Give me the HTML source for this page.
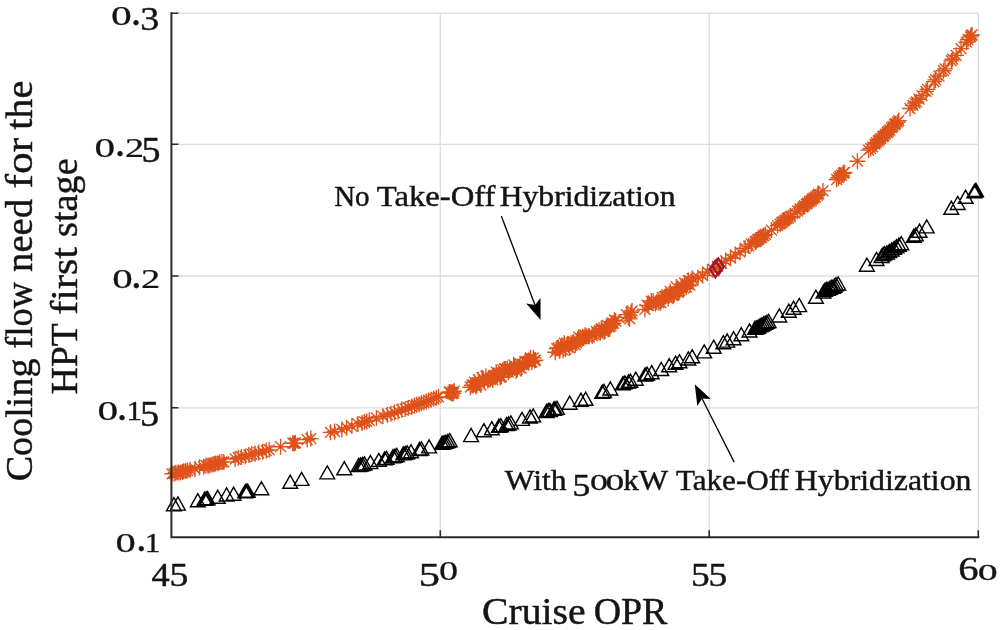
<!DOCTYPE html>
<html lang="en"><head><meta charset="utf-8"><title>Cooling flow need vs Cruise OPR</title>
<style>html,body{margin:0;padding:0;background:#fff}body{width:1006px;height:630px;overflow:hidden}svg{display:block}</style>
</head><body>
<svg width="1006" height="630" viewBox="0 0 1006 630">
<rect width="1006" height="630" fill="#fff"/>
<path d="M171.4 13.2H978.3M171.4 144.3H978.3M171.4 276.0H978.3M171.4 407.8H978.3M440.3 13.2V537.2M709.2 13.2V537.2M978.3 13.2V537.2" stroke="#dddddd" stroke-width="1.3" fill="none"/>
<path d="M164 473.8h16M172 465.8v16M166.6 468.4l10.8 10.8M166.6 479.2l10.8 -10.8M166.2 473.6h16M174.2 465.6v16M168.8 468.2l10.8 10.8M168.8 479l10.8 -10.8M167.8 472.7h16M175.8 464.7v16M170.4 467.3l10.8 10.8M170.4 478.1l10.8 -10.8M170 472.4h16M178 464.4v16M172.6 467l10.8 10.8M172.6 477.8l10.8 -10.8M172.3 472.4h16M180.3 464.4v16M174.9 467l10.8 10.8M174.9 477.8l10.8 -10.8M174.3 472h16M182.3 464v16M176.9 466.6l10.8 10.8M176.9 477.4l10.8 -10.8M175.7 471.2h16M183.7 463.2v16M178.3 465.8l10.8 10.8M178.3 476.6l10.8 -10.8M177.8 471h16M185.8 463v16M180.4 465.6l10.8 10.8M180.4 476.4l10.8 -10.8M179.6 470.4h16M187.6 462.4v16M182.2 465l10.8 10.8M182.2 475.8l10.8 -10.8M182 469.8h16M190 461.8v16M184.6 464.4l10.8 10.8M184.6 475.2l10.8 -10.8M187 468.9h16M195 460.9v16M189.6 463.5l10.8 10.8M189.6 474.3l10.8 -10.8M191.5 467.2h16M199.5 459.2v16M194.1 461.8l10.8 10.8M194.1 472.6l10.8 -10.8M195.6 466.8h16M203.6 458.8v16M198.2 461.4l10.8 10.8M198.2 472.2l10.8 -10.8M198 465.6h16M206 457.6v16M200.6 460.2l10.8 10.8M200.6 471l10.8 -10.8M200.1 465.7h16M208.1 457.7v16M202.7 460.3l10.8 10.8M202.7 471.1l10.8 -10.8M201.8 465.2h16M209.8 457.2v16M204.4 459.8l10.8 10.8M204.4 470.6l10.8 -10.8M204.1 464.4h16M212.1 456.4v16M206.7 459l10.8 10.8M206.7 469.8l10.8 -10.8M206.1 464.1h16M214.1 456.1v16M208.7 458.7l10.8 10.8M208.7 469.5l10.8 -10.8M207.6 463.6h16M215.6 455.6v16M210.2 458.2l10.8 10.8M210.2 469l10.8 -10.8M210 463.2h16M218 455.2v16M212.6 457.8l10.8 10.8M212.6 468.6l10.8 -10.8M211.8 462.3h16M219.8 454.3v16M214.4 456.9l10.8 10.8M214.4 467.7l10.8 -10.8M213.9 462h16M221.9 454v16M216.5 456.6l10.8 10.8M216.5 467.4l10.8 -10.8M215.8 461.9h16M223.8 453.9v16M218.4 456.5l10.8 10.8M218.4 467.3l10.8 -10.8M227.2 459h16M235.2 451v16M229.8 453.6l10.8 10.8M229.8 464.4l10.8 -10.8M230.3 457.7h16M238.3 449.7v16M232.9 452.3l10.8 10.8M232.9 463.1l10.8 -10.8M233.4 456.9h16M241.4 448.9v16M236 451.5l10.8 10.8M236 462.3l10.8 -10.8M237.3 456.5h16M245.3 448.5v16M239.9 451.1l10.8 10.8M239.9 461.9l10.8 -10.8M240.9 455.1h16M248.9 447.1v16M243.5 449.7l10.8 10.8M243.5 460.5l10.8 -10.8M243.8 454.1h16M251.8 446.1v16M246.4 448.7l10.8 10.8M246.4 459.5l10.8 -10.8M247.1 453.8h16M255.1 445.8v16M249.7 448.4l10.8 10.8M249.7 459.2l10.8 -10.8M250.7 452.6h16M258.7 444.6v16M253.3 447.2l10.8 10.8M253.3 458l10.8 -10.8M254.7 451.8h16M262.7 443.8v16M257.3 446.4l10.8 10.8M257.3 457.2l10.8 -10.8M258.2 450.6h16M266.2 442.6v16M260.8 445.2l10.8 10.8M260.8 456l10.8 -10.8M261.2 449.8h16M269.2 441.8v16M263.8 444.4l10.8 10.8M263.8 455.2l10.8 -10.8M272.6 446.7h16M280.6 438.7v16M275.2 441.3l10.8 10.8M275.2 452.1l10.8 -10.8M284.8 443.2h16M292.8 435.2v16M287.4 437.8l10.8 10.8M287.4 448.6l10.8 -10.8M286.1 443.4h16M294.1 435.4v16M288.7 438l10.8 10.8M288.7 448.8l10.8 -10.8M287.4 442.8h16M295.4 434.8v16M290 437.4l10.8 10.8M290 448.2l10.8 -10.8M299.2 439.6h16M307.2 431.6v16M301.8 434.2l10.8 10.8M301.8 445l10.8 -10.8M302.8 438.6h16M310.8 430.6v16M305.4 433.2l10.8 10.8M305.4 444l10.8 -10.8M322.5 432.3h16M330.5 424.3v16M325.1 426.9l10.8 10.8M325.1 437.7l10.8 -10.8M326.6 431.6h16M334.6 423.6v16M329.2 426.2l10.8 10.8M329.2 437l10.8 -10.8M333.8 429.4h16M341.8 421.4v16M336.4 424l10.8 10.8M336.4 434.8l10.8 -10.8M338.6 427.7h16M346.6 419.7v16M341.2 422.3l10.8 10.8M341.2 433.1l10.8 -10.8M343.9 426.1h16M351.9 418.1v16M346.5 420.7l10.8 10.8M346.5 431.5l10.8 -10.8M349.9 423.9h16M357.9 415.9v16M352.5 418.5l10.8 10.8M352.5 429.3l10.8 -10.8M354 423.1h16M362 415.1v16M356.6 417.7l10.8 10.8M356.6 428.5l10.8 -10.8M356.5 421.8h16M364.5 413.8v16M359.1 416.4l10.8 10.8M359.1 427.2l10.8 -10.8M358.8 421.4h16M366.8 413.4v16M361.4 416l10.8 10.8M361.4 426.8l10.8 -10.8M361.2 420.3h16M369.2 412.3v16M363.8 414.9l10.8 10.8M363.8 425.7l10.8 -10.8M368.4 418h16M376.4 410v16M371 412.6l10.8 10.8M371 423.4l10.8 -10.8M375 416.3h16M383 408.3v16M377.6 410.9l10.8 10.8M377.6 421.7l10.8 -10.8M379.4 414.7h16M387.4 406.7v16M382 409.3l10.8 10.8M382 420.1l10.8 -10.8M383 413.7h16M391 405.7v16M385.6 408.3l10.8 10.8M385.6 419.1l10.8 -10.8M386.5 412.6h16M394.5 404.6v16M389.1 407.2l10.8 10.8M389.1 418l10.8 -10.8M390.1 411.6h16M398.1 403.6v16M392.7 406.2l10.8 10.8M392.7 417l10.8 -10.8M393.8 409.6h16M401.8 401.6v16M396.4 404.2l10.8 10.8M396.4 415l10.8 -10.8M397.2 408.9h16M405.2 400.9v16M399.8 403.5l10.8 10.8M399.8 414.3l10.8 -10.8M400.2 407.8h16M408.2 399.8v16M402.8 402.4l10.8 10.8M402.8 413.2l10.8 -10.8M403.7 406.7h16M411.7 398.7v16M406.3 401.3l10.8 10.8M406.3 412.1l10.8 -10.8M406.5 405.6h16M414.5 397.6v16M409.1 400.2l10.8 10.8M409.1 411l10.8 -10.8M408.8 404.8h16M416.8 396.8v16M411.4 399.4l10.8 10.8M411.4 410.2l10.8 -10.8M411.1 404.3h16M419.1 396.3v16M413.7 398.9l10.8 10.8M413.7 409.7l10.8 -10.8M413.4 403.2h16M421.4 395.2v16M416 397.8l10.8 10.8M416 408.6l10.8 -10.8M415.9 402.4h16M423.9 394.4v16M418.5 397l10.8 10.8M418.5 407.8l10.8 -10.8M418.4 401.6h16M426.4 393.6v16M421 396.2l10.8 10.8M421 407l10.8 -10.8M420.6 400.4h16M428.6 392.4v16M423.2 395l10.8 10.8M423.2 405.8l10.8 -10.8M423 399.8h16M431 391.8v16M425.6 394.4l10.8 10.8M425.6 405.2l10.8 -10.8M425.6 398.6h16M433.6 390.6v16M428.2 393.2l10.8 10.8M428.2 404l10.8 -10.8M428.3 397.7h16M436.3 389.7v16M430.9 392.3l10.8 10.8M430.9 403.1l10.8 -10.8M430.5 396.8h16M438.5 388.8v16M433.1 391.4l10.8 10.8M433.1 402.2l10.8 -10.8M441.3 392.1h16M449.3 384.1v16M443.9 386.7l10.8 10.8M443.9 397.5l10.8 -10.8M442 391.9h16M450 383.9v16M444.6 386.5l10.8 10.8M444.6 397.3l10.8 -10.8M442.7 392.8h16M450.7 384.8v16M445.3 387.4l10.8 10.8M445.3 398.2l10.8 -10.8M443.3 392.8h16M451.3 384.8v16M445.9 387.4l10.8 10.8M445.9 398.2l10.8 -10.8M444 393.6h16M452 385.6v16M446.6 388.2l10.8 10.8M446.6 399l10.8 -10.8M444.8 391.9h16M452.8 383.9v16M447.4 386.5l10.8 10.8M447.4 397.3l10.8 -10.8M445.4 393.3h16M453.4 385.3v16M448 387.9l10.8 10.8M448 398.7l10.8 -10.8M446.2 391.1h16M454.2 383.1v16M448.8 385.7l10.8 10.8M448.8 396.5l10.8 -10.8M462.4 387.2h16M470.4 379.2v16M465 381.8l10.8 10.8M465 392.6l10.8 -10.8M464 385.2h16M472 377.2v16M466.6 379.8l10.8 10.8M466.6 390.6l10.8 -10.8M465.3 385.2h16M473.3 377.2v16M467.9 379.8l10.8 10.8M467.9 390.6l10.8 -10.8M466.6 382.2h16M474.6 374.2v16M469.2 376.8l10.8 10.8M469.2 387.6l10.8 -10.8M467.9 386.5h16M475.9 378.5v16M470.5 381.1l10.8 10.8M470.5 391.9l10.8 -10.8M468.9 384.9h16M476.9 376.9v16M471.5 379.5l10.8 10.8M471.5 390.3l10.8 -10.8M470.4 379.8h16M478.4 371.8v16M473 374.4l10.8 10.8M473 385.2l10.8 -10.8M471.5 382.2h16M479.5 374.2v16M474.1 376.8l10.8 10.8M474.1 387.6l10.8 -10.8M473 385h16M481 377v16M475.6 379.6l10.8 10.8M475.6 390.4l10.8 -10.8M474.1 377.7h16M482.1 369.7v16M476.7 372.3l10.8 10.8M476.7 383.1l10.8 -10.8M475.5 379h16M483.5 371v16M478.1 373.6l10.8 10.8M478.1 384.4l10.8 -10.8M476.4 381.8h16M484.4 373.8v16M479 376.4l10.8 10.8M479 387.2l10.8 -10.8M477.9 376.2h16M485.9 368.2v16M480.5 370.8l10.8 10.8M480.5 381.6l10.8 -10.8M479.8 380.5h16M487.8 372.5v16M482.4 375.1l10.8 10.8M482.4 385.9l10.8 -10.8M480.5 379h16M488.5 371v16M483.1 373.6l10.8 10.8M483.1 384.4l10.8 -10.8M482.2 379.5h16M490.2 371.5v16M484.8 374.1l10.8 10.8M484.8 384.9l10.8 -10.8M483.4 377.7h16M491.4 369.7v16M486 372.3l10.8 10.8M486 383.1l10.8 -10.8M484.8 379.9h16M492.8 371.9v16M487.4 374.5l10.8 10.8M487.4 385.3l10.8 -10.8M485.9 375.2h16M493.9 367.2v16M488.5 369.8l10.8 10.8M488.5 380.6l10.8 -10.8M487.3 376.3h16M495.3 368.3v16M489.9 370.9l10.8 10.8M489.9 381.7l10.8 -10.8M488.2 372.2h16M496.2 364.2v16M490.8 366.8l10.8 10.8M490.8 377.6l10.8 -10.8M489.5 375.3h16M497.5 367.3v16M492.1 369.9l10.8 10.8M492.1 380.7l10.8 -10.8M490.9 373.8h16M498.9 365.8v16M493.5 368.4l10.8 10.8M493.5 379.2l10.8 -10.8M492.1 377.3h16M500.1 369.3v16M494.7 371.9l10.8 10.8M494.7 382.7l10.8 -10.8M493.4 376.6h16M501.4 368.6v16M496 371.2l10.8 10.8M496 382l10.8 -10.8M494.7 370.2h16M502.7 362.2v16M497.3 364.8l10.8 10.8M497.3 375.6l10.8 -10.8M496.3 368.9h16M504.3 360.9v16M498.9 363.5l10.8 10.8M498.9 374.3l10.8 -10.8M497.4 369h16M505.4 361v16M500 363.6l10.8 10.8M500 374.4l10.8 -10.8M499.3 368.8h16M507.3 360.8v16M501.9 363.4l10.8 10.8M501.9 374.2l10.8 -10.8M500.3 372.2h16M508.3 364.2v16M502.9 366.8l10.8 10.8M502.9 377.6l10.8 -10.8M501.5 370.4h16M509.5 362.4v16M504.1 365l10.8 10.8M504.1 375.8l10.8 -10.8M503 369.7h16M511 361.7v16M505.6 364.3l10.8 10.8M505.6 375.1l10.8 -10.8M503.9 368.9h16M511.9 360.9v16M506.5 363.5l10.8 10.8M506.5 374.3l10.8 -10.8M505.7 364.8h16M513.7 356.8v16M508.3 359.4l10.8 10.8M508.3 370.2l10.8 -10.8M507 367.1h16M515 359.1v16M509.6 361.7l10.8 10.8M509.6 372.5l10.8 -10.8M508.2 371h16M516.2 363v16M510.8 365.6l10.8 10.8M510.8 376.4l10.8 -10.8M509.3 369.2h16M517.3 361.2v16M511.9 363.8l10.8 10.8M511.9 374.6l10.8 -10.8M510.9 366.8h16M518.9 358.8v16M513.5 361.4l10.8 10.8M513.5 372.2l10.8 -10.8M512.1 363.6h16M520.1 355.6v16M514.7 358.2l10.8 10.8M514.7 369l10.8 -10.8M513.3 368.3h16M521.3 360.3v16M515.9 362.9l10.8 10.8M515.9 373.7l10.8 -10.8M514.8 364.1h16M522.8 356.1v16M517.4 358.7l10.8 10.8M517.4 369.5l10.8 -10.8M515.9 365h16M523.9 357v16M518.5 359.6l10.8 10.8M518.5 370.4l10.8 -10.8M517 361.6h16M525 353.6v16M519.6 356.2l10.8 10.8M519.6 367l10.8 -10.8M518.4 361.9h16M526.4 353.9v16M521 356.5l10.8 10.8M521 367.3l10.8 -10.8M519.5 361.6h16M527.5 353.6v16M522.1 356.2l10.8 10.8M522.1 367l10.8 -10.8M520.8 361.4h16M528.8 353.4v16M523.4 356l10.8 10.8M523.4 366.8l10.8 -10.8M522.5 358h16M530.5 350v16M525.1 352.6l10.8 10.8M525.1 363.4l10.8 -10.8M523.8 362h16M531.8 354v16M526.4 356.6l10.8 10.8M526.4 367.4l10.8 -10.8M525.3 357.9h16M533.3 349.9v16M527.9 352.5l10.8 10.8M527.9 363.3l10.8 -10.8M526.5 360.5h16M534.5 352.5v16M529.1 355.1l10.8 10.8M529.1 365.9l10.8 -10.8M527.5 360.1h16M535.5 352.1v16M530.1 354.7l10.8 10.8M530.1 365.5l10.8 -10.8M547.2 352.2h16M555.2 344.2v16M549.8 346.8l10.8 10.8M549.8 357.6l10.8 -10.8M548.8 348.6h16M556.8 340.6v16M551.4 343.2l10.8 10.8M551.4 354l10.8 -10.8M550.4 347.8h16M558.4 339.8v16M553 342.4l10.8 10.8M553 353.2l10.8 -10.8M551.6 350.7h16M559.6 342.7v16M554.2 345.3l10.8 10.8M554.2 356.1l10.8 -10.8M552.7 347.5h16M560.7 339.5v16M555.3 342.1l10.8 10.8M555.3 352.9l10.8 -10.8M554 345.3h16M562 337.3v16M556.6 339.9l10.8 10.8M556.6 350.7l10.8 -10.8M555.1 350.2h16M563.1 342.2v16M557.7 344.8l10.8 10.8M557.7 355.6l10.8 -10.8M556.3 343.2h16M564.3 335.2v16M558.9 337.8l10.8 10.8M558.9 348.6l10.8 -10.8M557.6 349h16M565.6 341v16M560.2 343.6l10.8 10.8M560.2 354.4l10.8 -10.8M559.5 343.8h16M567.5 335.8v16M562.1 338.4l10.8 10.8M562.1 349.2l10.8 -10.8M560.6 343.9h16M568.6 335.9v16M563.2 338.5l10.8 10.8M563.2 349.3l10.8 -10.8M561.5 347.8h16M569.5 339.8v16M564.1 342.4l10.8 10.8M564.1 353.2l10.8 -10.8M563 343.2h16M571 335.2v16M565.6 337.8l10.8 10.8M565.6 348.6l10.8 -10.8M564 344.8h16M572 336.8v16M566.6 339.4l10.8 10.8M566.6 350.2l10.8 -10.8M565.5 342h16M573.5 334v16M568.1 336.6l10.8 10.8M568.1 347.4l10.8 -10.8M567.2 344.8h16M575.2 336.8v16M569.8 339.4l10.8 10.8M569.8 350.2l10.8 -10.8M568.4 342.8h16M576.4 334.8v16M571 337.4l10.8 10.8M571 348.2l10.8 -10.8M569.6 340.6h16M577.6 332.6v16M572.2 335.2l10.8 10.8M572.2 346l10.8 -10.8M570.7 337.2h16M578.7 329.2v16M573.3 331.8l10.8 10.8M573.3 342.6l10.8 -10.8M572.3 338.5h16M580.3 330.5v16M574.9 333.1l10.8 10.8M574.9 343.9l10.8 -10.8M573.9 338.7h16M581.9 330.7v16M576.5 333.3l10.8 10.8M576.5 344.1l10.8 -10.8M574.7 336.8h16M582.7 328.8v16M577.3 331.4l10.8 10.8M577.3 342.2l10.8 -10.8M575.8 338.1h16M583.8 330.1v16M578.4 332.7l10.8 10.8M578.4 343.5l10.8 -10.8M577 335.2h16M585 327.2v16M579.6 329.8l10.8 10.8M579.6 340.6l10.8 -10.8M578.4 336.6h16M586.4 328.6v16M581 331.2l10.8 10.8M581 342l10.8 -10.8M580.4 335.9h16M588.4 327.9v16M583 330.5l10.8 10.8M583 341.3l10.8 -10.8M581.3 336.5h16M589.3 328.5v16M583.9 331.1l10.8 10.8M583.9 341.9l10.8 -10.8M584.2 335.7h16M592.2 327.7v16M586.8 330.3l10.8 10.8M586.8 341.1l10.8 -10.8M586 334.7h16M594 326.7v16M588.6 329.3l10.8 10.8M588.6 340.1l10.8 -10.8M588.3 331.4h16M596.3 323.4v16M590.9 326l10.8 10.8M590.9 336.8l10.8 -10.8M591.1 330.3h16M599.1 322.3v16M593.7 324.9l10.8 10.8M593.7 335.7l10.8 -10.8M592.4 332.7h16M600.4 324.7v16M595 327.3l10.8 10.8M595 338.1l10.8 -10.8M593.3 328.6h16M601.3 320.6v16M595.9 323.2l10.8 10.8M595.9 334l10.8 -10.8M594.3 330.8h16M602.3 322.8v16M596.9 325.4l10.8 10.8M596.9 336.2l10.8 -10.8M596 331.8h16M604 323.8v16M598.6 326.4l10.8 10.8M598.6 337.2l10.8 -10.8M596.9 330.9h16M604.9 322.9v16M599.5 325.5l10.8 10.8M599.5 336.3l10.8 -10.8M598.3 327.5h16M606.3 319.5v16M600.9 322.1l10.8 10.8M600.9 332.9l10.8 -10.8M599.2 325.3h16M607.2 317.3v16M601.8 319.9l10.8 10.8M601.8 330.7l10.8 -10.8M600.7 326.8h16M608.7 318.8v16M603.3 321.4l10.8 10.8M603.3 332.2l10.8 -10.8M602 326.7h16M610 318.7v16M604.6 321.3l10.8 10.8M604.6 332.1l10.8 -10.8M603.1 325h16M611.1 317v16M605.7 319.6l10.8 10.8M605.7 330.4l10.8 -10.8M604.1 323.2h16M612.1 315.2v16M606.7 317.8l10.8 10.8M606.7 328.6l10.8 -10.8M605.5 323.3h16M613.5 315.3v16M608.1 317.9l10.8 10.8M608.1 328.7l10.8 -10.8M606.4 320.2h16M614.4 312.2v16M609 314.8l10.8 10.8M609 325.6l10.8 -10.8M607.7 321h16M615.7 313v16M610.3 315.6l10.8 10.8M610.3 326.4l10.8 -10.8M618.5 314.6h16M626.5 306.6v16M621.1 309.2l10.8 10.8M621.1 320l10.8 -10.8M620.3 317.4h16M628.3 309.4v16M622.9 312l10.8 10.8M622.9 322.8l10.8 -10.8M621.6 318.9h16M629.6 310.9v16M624.2 313.5l10.8 10.8M624.2 324.3l10.8 -10.8M623 312.4h16M631 304.4v16M625.6 307l10.8 10.8M625.6 317.8l10.8 -10.8M624 310.9h16M632 302.9v16M626.6 305.5l10.8 10.8M626.6 316.3l10.8 -10.8M636.9 309.3h16M644.9 301.3v16M639.5 303.9l10.8 10.8M639.5 314.7l10.8 -10.8M639.3 305.3h16M647.3 297.3v16M641.9 299.9l10.8 10.8M641.9 310.7l10.8 -10.8M640.7 305.6h16M648.7 297.6v16M643.3 300.2l10.8 10.8M643.3 311l10.8 -10.8M643.3 301.1h16M651.3 293.1v16M645.9 295.7l10.8 10.8M645.9 306.5l10.8 -10.8M645.2 300.9h16M653.2 292.9v16M647.8 295.5l10.8 10.8M647.8 306.3l10.8 -10.8M647.4 303.5h16M655.4 295.5v16M650 298.1l10.8 10.8M650 308.9l10.8 -10.8M648.9 302h16M656.9 294v16M651.5 296.6l10.8 10.8M651.5 307.4l10.8 -10.8M650.8 302.8h16M658.8 294.8v16M653.4 297.4l10.8 10.8M653.4 308.2l10.8 -10.8M652.8 302.5h16M660.8 294.5v16M655.4 297.1l10.8 10.8M655.4 307.9l10.8 -10.8M654.2 297.3h16M662.2 289.3v16M656.8 291.9l10.8 10.8M656.8 302.7l10.8 -10.8M655.5 298.5h16M663.5 290.5v16M658.1 293.1l10.8 10.8M658.1 303.9l10.8 -10.8M656.5 296.7h16M664.5 288.7v16M659.1 291.3l10.8 10.8M659.1 302.1l10.8 -10.8M657.6 296.5h16M665.6 288.5v16M660.2 291.1l10.8 10.8M660.2 301.9l10.8 -10.8M658.7 295.1h16M666.7 287.1v16M661.3 289.7l10.8 10.8M661.3 300.5l10.8 -10.8M660.2 298.5h16M668.2 290.5v16M662.8 293.1l10.8 10.8M662.8 303.9l10.8 -10.8M661.4 295.3h16M669.4 287.3v16M664 289.9l10.8 10.8M664 300.7l10.8 -10.8M662.2 291.4h16M670.2 283.4v16M664.8 286l10.8 10.8M664.8 296.8l10.8 -10.8M663.4 294.7h16M671.4 286.7v16M666 289.3l10.8 10.8M666 300.1l10.8 -10.8M665 295.7h16M673 287.7v16M667.6 290.3l10.8 10.8M667.6 301.1l10.8 -10.8M666.2 294.5h16M674.2 286.5v16M668.8 289.1l10.8 10.8M668.8 299.9l10.8 -10.8M667.1 291.6h16M675.1 283.6v16M669.7 286.2l10.8 10.8M669.7 297l10.8 -10.8M668.3 287h16M676.3 279v16M670.9 281.6l10.8 10.8M670.9 292.4l10.8 -10.8M669.6 292h16M677.6 284v16M672.2 286.6l10.8 10.8M672.2 297.4l10.8 -10.8M670.8 292.2h16M678.8 284.2v16M673.4 286.8l10.8 10.8M673.4 297.6l10.8 -10.8M671.8 290.3h16M679.8 282.3v16M674.4 284.9l10.8 10.8M674.4 295.7l10.8 -10.8M673.4 287.1h16M681.4 279.1v16M676 281.7l10.8 10.8M676 292.5l10.8 -10.8M674.4 286.2h16M682.4 278.2v16M677 280.8l10.8 10.8M677 291.6l10.8 -10.8M675.8 288h16M683.8 280v16M678.4 282.6l10.8 10.8M678.4 293.4l10.8 -10.8M676.6 283h16M684.6 275v16M679.2 277.6l10.8 10.8M679.2 288.4l10.8 -10.8M678.3 286.9h16M686.3 278.9v16M680.9 281.5l10.8 10.8M680.9 292.3l10.8 -10.8M679.4 284.2h16M687.4 276.2v16M682 278.8l10.8 10.8M682 289.6l10.8 -10.8M680.3 280.6h16M688.3 272.6v16M682.9 275.2l10.8 10.8M682.9 286l10.8 -10.8M681.9 285.1h16M689.9 277.1v16M684.5 279.7l10.8 10.8M684.5 290.5l10.8 -10.8M682.9 281.4h16M690.9 273.4v16M685.5 276l10.8 10.8M685.5 286.8l10.8 -10.8M684.2 278.6h16M692.2 270.6v16M686.8 273.2l10.8 10.8M686.8 284l10.8 -10.8M690 277.7h16M698 269.7v16M692.6 272.3l10.8 10.8M692.6 283.1l10.8 -10.8M694.5 275.6h16M702.5 267.6v16M697.1 270.2l10.8 10.8M697.1 281l10.8 -10.8M699.5 272h16M707.5 264v16M702.1 266.6l10.8 10.8M702.1 277.4l10.8 -10.8M705 269.2h16M713 261.2v16M707.6 263.8l10.8 10.8M707.6 274.6l10.8 -10.8M709.5 266.4h16M717.5 258.4v16M712.1 261l10.8 10.8M712.1 271.8l10.8 -10.8M713.5 263.3h16M721.5 255.3v16M716.1 257.9l10.8 10.8M716.1 268.7l10.8 -10.8M717.7 260.9h16M725.7 252.9v16M720.3 255.5l10.8 10.8M720.3 266.3l10.8 -10.8M722.5 258.2h16M730.5 250.2v16M725.1 252.8l10.8 10.8M725.1 263.6l10.8 -10.8M727.2 254.9h16M735.2 246.9v16M729.8 249.5l10.8 10.8M729.8 260.3l10.8 -10.8M732 252.1h16M740 244.1v16M734.6 246.7l10.8 10.8M734.6 257.5l10.8 -10.8M737.2 248.2h16M745.2 240.2v16M739.8 242.8l10.8 10.8M739.8 253.6l10.8 -10.8M740.7 246.1h16M748.7 238.1v16M743.3 240.7l10.8 10.8M743.3 251.5l10.8 -10.8M743.2 244h16M751.2 236v16M745.8 238.6l10.8 10.8M745.8 249.4l10.8 -10.8M747.1 241.9h16M755.1 233.9v16M749.7 236.5l10.8 10.8M749.7 247.3l10.8 -10.8M748.2 241.2h16M756.2 233.2v16M750.8 235.8l10.8 10.8M750.8 246.6l10.8 -10.8M749.6 240h16M757.6 232v16M752.2 234.6l10.8 10.8M752.2 245.4l10.8 -10.8M750.7 239h16M758.7 231v16M753.3 233.6l10.8 10.8M753.3 244.4l10.8 -10.8M752.5 237.8h16M760.5 229.8v16M755.1 232.4l10.8 10.8M755.1 243.2l10.8 -10.8M753.5 237.3h16M761.5 229.3v16M756.1 231.9l10.8 10.8M756.1 242.7l10.8 -10.8M755 235.9h16M763 227.9v16M757.6 230.5l10.8 10.8M757.6 241.3l10.8 -10.8M755.8 235.6h16M763.8 227.6v16M758.4 230.2l10.8 10.8M758.4 241l10.8 -10.8M757.4 234.4h16M765.4 226.4v16M760 229l10.8 10.8M760 239.8l10.8 -10.8M763.5 230.1h16M771.5 222.1v16M766.1 224.7l10.8 10.8M766.1 235.5l10.8 -10.8M769.6 225.6h16M777.6 217.6v16M772.2 220.2l10.8 10.8M772.2 231l10.8 -10.8M772.1 224.2h16M780.1 216.2v16M774.7 218.8l10.8 10.8M774.7 229.6l10.8 -10.8M773.6 222.7h16M781.6 214.7v16M776.2 217.3l10.8 10.8M776.2 228.1l10.8 -10.8M775.1 221.6h16M783.1 213.6v16M777.7 216.2l10.8 10.8M777.7 227l10.8 -10.8M776.9 220.2h16M784.9 212.2v16M779.5 214.8l10.8 10.8M779.5 225.6l10.8 -10.8M779 218.5h16M787 210.5v16M781.6 213.1l10.8 10.8M781.6 223.9l10.8 -10.8M780.5 217.8h16M788.5 209.8v16M783.1 212.4l10.8 10.8M783.1 223.2l10.8 -10.8M782.3 216.7h16M790.3 208.7v16M784.9 211.3l10.8 10.8M784.9 222.1l10.8 -10.8M787 213.2h16M795 205.2v16M789.6 207.8l10.8 10.8M789.6 218.6l10.8 -10.8M789.5 211h16M797.5 203v16M792.1 205.6l10.8 10.8M792.1 216.4l10.8 -10.8M792 208.9h16M800 200.9v16M794.6 203.5l10.8 10.8M794.6 214.3l10.8 -10.8M795.1 207h16M803.1 199v16M797.7 201.6l10.8 10.8M797.7 212.4l10.8 -10.8M796.5 205.6h16M804.5 197.6v16M799.1 200.2l10.8 10.8M799.1 211l10.8 -10.8M798.3 204.2h16M806.3 196.2v16M800.9 198.8l10.8 10.8M800.9 209.6l10.8 -10.8M799.6 203.2h16M807.6 195.2v16M802.2 197.8l10.8 10.8M802.2 208.6l10.8 -10.8M801.3 201.5h16M809.3 193.5v16M803.9 196.1l10.8 10.8M803.9 206.9l10.8 -10.8M803.2 200.5h16M811.2 192.5v16M805.8 195.1l10.8 10.8M805.8 205.9l10.8 -10.8M804.4 199h16M812.4 191v16M807 193.6l10.8 10.8M807 204.4l10.8 -10.8M806 198h16M814 190v16M808.6 192.6l10.8 10.8M808.6 203.4l10.8 -10.8M807.6 197h16M815.6 189v16M810.2 191.6l10.8 10.8M810.2 202.4l10.8 -10.8M809.4 195.3h16M817.4 187.3v16M812 189.9l10.8 10.8M812 200.7l10.8 -10.8M810.7 194.1h16M818.7 186.1v16M813.3 188.7l10.8 10.8M813.3 199.5l10.8 -10.8M815 190.9h16M823 182.9v16M817.6 185.5l10.8 10.8M817.6 196.3l10.8 -10.8M828.7 179.5h16M836.7 171.5v16M831.3 174.1l10.8 10.8M831.3 184.9l10.8 -10.8M830.5 177.7h16M838.5 169.7v16M833.1 172.3l10.8 10.8M833.1 183.1l10.8 -10.8M831.8 176.1h16M839.8 168.1v16M834.4 170.7l10.8 10.8M834.4 181.5l10.8 -10.8M833.6 175.2h16M841.6 167.2v16M836.2 169.8l10.8 10.8M836.2 180.6l10.8 -10.8M835.2 173.2h16M843.2 165.2v16M837.8 167.8l10.8 10.8M837.8 178.6l10.8 -10.8M836.5 172.5h16M844.5 164.5v16M839.1 167.1l10.8 10.8M839.1 177.9l10.8 -10.8M849.4 161.2h16M857.4 153.2v16M852 155.8l10.8 10.8M852 166.6l10.8 -10.8M860.6 150.1h16M868.6 142.1v16M863.2 144.7l10.8 10.8M863.2 155.5l10.8 -10.8M862.6 148.5h16M870.6 140.5v16M865.2 143.1l10.8 10.8M865.2 153.9l10.8 -10.8M864.6 146.8h16M872.6 138.8v16M867.2 141.4l10.8 10.8M867.2 152.2l10.8 -10.8M867 144.1h16M875 136.1v16M869.6 138.7l10.8 10.8M869.6 149.5l10.8 -10.8M868.4 142.7h16M876.4 134.7v16M871 137.3l10.8 10.8M871 148.1l10.8 -10.8M870.1 141h16M878.1 133v16M872.7 135.6l10.8 10.8M872.7 146.4l10.8 -10.8M871.3 139.9h16M879.3 131.9v16M873.9 134.5l10.8 10.8M873.9 145.3l10.8 -10.8M872.8 138.3h16M880.8 130.3v16M875.4 132.9l10.8 10.8M875.4 143.7l10.8 -10.8M874.7 136.6h16M882.7 128.6v16M877.3 131.2l10.8 10.8M877.3 142l10.8 -10.8M875.9 135.9h16M883.9 127.9v16M878.5 130.5l10.8 10.8M878.5 141.3l10.8 -10.8M877.4 134.2h16M885.4 126.2v16M880 128.8l10.8 10.8M880 139.6l10.8 -10.8M879.3 132.5h16M887.3 124.5v16M881.9 127.1l10.8 10.8M881.9 137.9l10.8 -10.8M880.4 131.3h16M888.4 123.3v16M883 125.9l10.8 10.8M883 136.7l10.8 -10.8M881.8 130h16M889.8 122v16M884.4 124.6l10.8 10.8M884.4 135.4l10.8 -10.8M883.6 127.6h16M891.6 119.6v16M886.2 122.2l10.8 10.8M886.2 133l10.8 -10.8M885 126.5h16M893 118.5v16M887.6 121.1l10.8 10.8M887.6 131.9l10.8 -10.8M886.6 124.5h16M894.6 116.5v16M889.2 119.1l10.8 10.8M889.2 129.9l10.8 -10.8M887.7 123.7h16M895.7 115.7v16M890.3 118.3l10.8 10.8M890.3 129.1l10.8 -10.8M889.5 122.2h16M897.5 114.2v16M892.1 116.8l10.8 10.8M892.1 127.6l10.8 -10.8M890.7 120.6h16M898.7 112.6v16M893.3 115.2l10.8 10.8M893.3 126l10.8 -10.8M902 108.5h16M910 100.5v16M904.6 103.1l10.8 10.8M904.6 113.9l10.8 -10.8M904.9 105.3h16M912.9 97.3v16M907.5 99.9l10.8 10.8M907.5 110.7l10.8 -10.8M907 103.1h16M915 95.1v16M909.6 97.7l10.8 10.8M909.6 108.5l10.8 -10.8M908.5 101.9h16M916.5 93.9v16M911.1 96.5l10.8 10.8M911.1 107.3l10.8 -10.8M911 99.2h16M919 91.2v16M913.6 93.8l10.8 10.8M913.6 104.6l10.8 -10.8M914 95.6h16M922 87.6v16M916.6 90.2l10.8 10.8M916.6 101l10.8 -10.8M918 91.3h16M926 83.3v16M920.6 85.9l10.8 10.8M920.6 96.7l10.8 -10.8M919.5 89.4h16M927.5 81.4v16M922.1 84l10.8 10.8M922.1 94.8l10.8 -10.8M926 81.6h16M934 73.6v16M928.6 76.2l10.8 10.8M928.6 87l10.8 -10.8M927.5 79.9h16M935.5 71.9v16M930.1 74.5l10.8 10.8M930.1 85.3l10.8 -10.8M931 76h16M939 68v16M933.6 70.6l10.8 10.8M933.6 81.4l10.8 -10.8M935.5 70.7h16M943.5 62.7v16M938.1 65.3l10.8 10.8M938.1 76.1l10.8 -10.8M937 68.8h16M945 60.8v16M939.6 63.4l10.8 10.8M939.6 74.2l10.8 -10.8M943.4 60.9h16M951.4 52.9v16M946 55.5l10.8 10.8M946 66.3l10.8 -10.8M944.5 59.2h16M952.5 51.2v16M947.1 53.8l10.8 10.8M947.1 64.6l10.8 -10.8M948.2 55.3h16M956.2 47.3v16M950.8 49.9l10.8 10.8M950.8 60.7l10.8 -10.8M953 48.6h16M961 40.6v16M955.6 43.2l10.8 10.8M955.6 54l10.8 -10.8M958.5 42.2h16M966.5 34.2v16M961.1 36.8l10.8 10.8M961.1 47.6l10.8 -10.8M960 39.5h16M968 31.5v16M962.6 34.1l10.8 10.8M962.6 44.9l10.8 -10.8M962.5 36.9h16M970.5 28.9v16M965.1 31.5l10.8 10.8M965.1 42.3l10.8 -10.8M963.3 35.4h16M971.3 27.4v16M965.9 30l10.8 10.8M965.9 40.8l10.8 -10.8M964 34.8h16M972 26.8v16M966.6 29.4l10.8 10.8M966.6 40.2l10.8 -10.8" stroke="#de5219" stroke-width="1.35" fill="none"/>
<path d="M166.5 510.8L173.9 497.7L181.3 510.8ZM170.5 510.1L177.9 497L185.3 510.1ZM190.4 506.8L197.8 493.7L205.2 506.8ZM197.2 505.2L204.6 492.1L212 505.2ZM198.7 505L206.1 491.9L213.5 505ZM200.2 504.7L207.6 491.6L215 504.7ZM210.3 503.3L217.7 490.2L225.1 503.3ZM219.2 501L226.6 487.9L234 501ZM226.2 500.3L233.6 487.2L241 500.3ZM237.9 497.7L245.3 484.6L252.7 497.7ZM239.1 497.4L246.5 484.3L253.9 497.4ZM240.3 497.2L247.7 484.1L255.1 497.2ZM254 494.7L261.4 481.6L268.8 494.7ZM282.8 488.3L290.2 475.2L297.6 488.3ZM294.2 485.4L301.6 472.3L309 485.4ZM319.9 478.9L327.3 465.8L334.7 478.9ZM336.9 474.7L344.3 461.6L351.7 474.7ZM351.3 471.5L358.7 458.4L366.1 471.5ZM353.3 471.1L360.7 458L368.1 471.1ZM355.2 470.5L362.6 457.4L370 470.5ZM357.1 470L364.5 456.9L371.9 470ZM363 468.5L370.4 455.4L377.8 468.5ZM371.4 466.4L378.8 453.3L386.2 466.4ZM377.2 464.9L384.6 451.8L392 464.9ZM379.1 464.4L386.5 451.3L393.9 464.4ZM385.6 462.7L393 449.6L400.4 462.7ZM387.5 462.2L394.9 449.1L402.3 462.2ZM389.4 461.6L396.8 448.5L404.2 461.6ZM395.9 459.9L403.3 446.8L410.7 459.9ZM397.8 459.4L405.2 446.3L412.6 459.4ZM399.8 458.9L407.2 445.8L414.6 458.9ZM403.6 457.8L411 444.7L418.4 457.8ZM412.1 455.5L419.5 442.4L426.9 455.5ZM414 455L421.4 441.9L428.8 455ZM421.7 452.9L429.1 439.8L436.5 452.9ZM434.7 449.3L442.1 436.2L449.5 449.3ZM436.6 448.7L444 435.6L451.4 448.7ZM438.5 448.2L445.9 435.1L453.3 448.2ZM440.5 447.6L447.9 434.5L455.3 447.6ZM442.4 446.8L449.8 433.7L457.2 446.8ZM463.7 441.6L471.1 428.5L478.5 441.6ZM476.5 436.8L483.9 423.7L491.3 436.8ZM484.4 434.8L491.8 421.7L499.2 434.8ZM491.4 432.4L498.8 419.3L506.2 432.4ZM493.4 431.8L500.8 418.7L508.2 431.8ZM499.3 430.6L506.7 417.5L514.1 430.6ZM501.3 430L508.7 416.9L516.1 430ZM503.5 428.9L510.9 415.8L518.3 428.9ZM514.6 425.4L522 412.3L529.4 425.4ZM522.6 423.1L530 410L537.4 423.1ZM525.8 421.9L533.2 408.8L540.6 421.9ZM539.1 417.6L546.5 404.5L553.9 417.6ZM540.9 416.4L548.3 403.3L555.7 416.4ZM542.6 416.5L550 403.4L557.4 416.5ZM546.4 415.2L553.8 402.1L561.2 415.2ZM547.6 414.8L555 401.7L562.4 414.8ZM549.6 414.4L557 401.3L564.4 414.4ZM562.3 409.2L569.7 396.1L577.1 409.2ZM573.5 406.3L580.9 393.2L588.3 406.3ZM578.2 405.3L585.6 392.2L593 405.3ZM594.9 398.2L602.3 385.1L609.7 398.2ZM596.6 397.5L604 384.4L611.4 397.5ZM602.9 395L610.3 381.9L617.7 395ZM615.5 389.7L622.9 376.6L630.3 389.7ZM617.5 388.9L624.9 375.8L632.3 388.9ZM621 388L628.4 374.9L635.8 388ZM623 387.2L630.4 374.1L637.8 387.2ZM628.4 385.2L635.8 372.1L643.2 385.2ZM637.7 381L645.1 367.9L652.5 381ZM639.7 380.2L647.1 367.1L654.5 380.2ZM644.3 378.8L651.7 365.7L659.1 378.8ZM653.8 375.5L661.2 362.4L668.6 375.5ZM661.8 371.7L669.2 358.6L676.6 371.7ZM668.1 369.3L675.5 356.2L682.9 369.3ZM672.1 367.7L679.5 354.6L686.9 367.7ZM680.9 365L688.3 351.9L695.7 365ZM684.8 362.8L692.2 349.7L699.6 362.8ZM696.8 357.9L704.2 344.8L711.6 357.9ZM706.3 353.3L713.7 340.2L721.1 353.3ZM715.9 348.8L723.3 335.7L730.7 348.8ZM719.8 347.1L727.2 334L734.6 347.1ZM726.2 344.8L733.6 331.7L741 344.8ZM733.9 340.8L741.3 327.7L748.7 340.8ZM742.1 337L749.5 323.9L756.9 337ZM747.6 334.3L755 321.2L762.4 334.3ZM749.3 333.9L756.7 320.8L764.1 333.9ZM751 333L758.4 319.9L765.8 333ZM752.7 331.8L760.1 318.7L767.5 331.8ZM754.4 331L761.8 317.9L769.2 331ZM756.1 330.1L763.5 317L770.9 330.1ZM757.8 329.3L765.2 316.2L772.6 329.3ZM759.5 328.4L766.9 315.3L774.3 328.4ZM761.2 327.6L768.6 314.5L776 327.6ZM771.9 322L779.3 308.9L786.7 322ZM781.4 317.2L788.8 304.1L796.2 317.2ZM786.2 314.2L793.6 301.1L801 314.2ZM791.8 311.6L799.2 298.5L806.6 311.6ZM808.5 303.3L815.9 290.2L823.3 303.3ZM816.1 298L823.5 284.9L830.9 298ZM817.6 296.3L825 283.2L832.4 296.3ZM819.1 295.4L826.5 282.3L833.9 295.4ZM820.6 295.4L828 282.3L835.4 295.4ZM822.6 294.2L830 281.1L837.4 294.2ZM824.1 293.4L831.5 280.3L838.9 293.4ZM825.6 293.2L833 280.1L840.4 293.2ZM827.1 292.3L834.5 279.2L841.9 292.3ZM828.6 290.7L836 277.6L843.4 290.7ZM830.8 290L838.2 276.9L845.6 290ZM859.5 271.2L866.9 258.1L874.3 271.2ZM869.1 265.5L876.5 252.4L883.9 265.5ZM874.1 262.6L881.5 249.5L888.9 262.6ZM875.6 260.8L883 247.7L890.4 260.8ZM877.1 259.8L884.5 246.7L891.9 259.8ZM879.5 259.1L886.9 246L894.3 259.1ZM881.9 257.5L889.3 244.4L896.7 257.5ZM884.3 256L891.7 242.9L899.1 256ZM886.7 254.4L894.1 241.3L901.5 254.4ZM889.1 252.8L896.5 239.7L903.9 252.8ZM891.5 251.2L898.9 238.1L906.3 251.2ZM893.9 249.7L901.3 236.6L908.7 249.7ZM906.4 242.3L913.8 229.2L921.2 242.3ZM908.4 240.9L915.8 227.8L923.2 240.9ZM912.1 237.2L919.5 224.1L926.9 237.2ZM919.3 232.9L926.7 219.8L934.1 232.9ZM943.9 214.3L951.3 201.2L958.7 214.3ZM950.3 209.5L957.7 196.4L965.1 209.5ZM958.2 203.3L965.6 190.2L973 203.3ZM966.8 197.9L974.2 184.8L981.6 197.9ZM967.8 197.1L975.2 184L982.6 197.1ZM968.6 196.5L976 183.4L983.4 196.5Z" stroke="#000" stroke-width="1.4" fill="none" stroke-linejoin="miter"/>
<path d="M715.3 260.6L720.9 268.9L715.3 277.2L709.7 268.9Z" stroke="#a2142f" stroke-width="2.2" fill="none"/>
<path d="M718.3 258.4L723.9 266.7L718.3 275L712.7 266.7Z" stroke="#a2142f" stroke-width="2.2" fill="none"/>
<path d="M171.4 13.2V537.2H978.3" stroke="#2b2b2b" stroke-width="2" fill="none" stroke-linecap="square"/>
<path d="M171.4 13.2h7M171.4 144.3h7M171.4 276.0h7M171.4 407.8h7M440.3 537.2v-7M709.2 537.2v-7M978.3 537.2v-7" stroke="#2b2b2b" stroke-width="1.6" fill="none"/>
<path d="M501.3 215.9L535 305" stroke="#000" stroke-width="1.3" fill="none"/><path d="M540.6 320L526.2 303.5L535 305L540.5 298.1Z" fill="#000"/>
<path d="M734.2 462.1L702 398.5" stroke="#000" stroke-width="1.3" fill="none"/><path d="M694.8 384.2L710.8 399.1L702 398.5L697.3 405.9Z" fill="#000"/>
<g font-family='"Liberation Serif", "DejaVu Serif", serif' fill="#141414" stroke="#141414" stroke-width="0.45" stroke-linejoin="round" >
<text y="206.4" font-size="30"><tspan x="334.16" textLength="35.44" lengthAdjust="spacingAndGlyphs">No</tspan> <tspan x="376.82" textLength="118.68" lengthAdjust="spacingAndGlyphs">Take-Off</tspan> <tspan x="499.69" textLength="175.79" lengthAdjust="spacingAndGlyphs">Hybridization</tspan></text>
<text y="489.8" font-size="30"><tspan x="504.77" textLength="61.84" lengthAdjust="spacingAndGlyphs">With</tspan> <tspan x="572.54" y="495.50" font-size="30.55" stroke-width="0.49" textLength="17.75" lengthAdjust="spacingAndGlyphs">5</tspan><tspan x="589.93" y="490.18" font-size="22.97" stroke-width="0.26" textLength="17.93" lengthAdjust="spacingAndGlyphs">0</tspan><tspan x="605.57" y="490.18" font-size="22.97" stroke-width="0.26" textLength="18.76" lengthAdjust="spacingAndGlyphs">0</tspan><tspan x="623.32" textLength="44.34" lengthAdjust="spacingAndGlyphs" y="489.8" font-size="30" stroke-width="0.45">kW</tspan> <tspan x="675.95" textLength="112.95" lengthAdjust="spacingAndGlyphs">Take-Off</tspan> <tspan x="794.88" textLength="176.60" lengthAdjust="spacingAndGlyphs">Hybridization</tspan></text>
<text y="623.5" font-size="38.5"><tspan x="481.97" textLength="103.71" lengthAdjust="spacingAndGlyphs">Cruise</tspan> <tspan x="593.64" textLength="73.81" lengthAdjust="spacingAndGlyphs">OPR</tspan></text>
<text transform="translate(31.8 479.8) rotate(-90)" font-size="38.5"><tspan x="-1.56" textLength="122.89" lengthAdjust="spacingAndGlyphs">Cooling</tspan> <tspan x="131.08" textLength="66.68" lengthAdjust="spacingAndGlyphs">flow</tspan> <tspan x="207.91" textLength="72.96" lengthAdjust="spacingAndGlyphs">need</tspan> <tspan x="291.36" textLength="50.62" lengthAdjust="spacingAndGlyphs">for</tspan> <tspan x="350.01" textLength="48.98" lengthAdjust="spacingAndGlyphs">the</tspan></text>
<text transform="translate(76.5 393.1) rotate(-90)" font-size="38.5"><tspan x="-1.07" textLength="70.19" lengthAdjust="spacingAndGlyphs">HPT</tspan> <tspan x="78.30" textLength="67.84" lengthAdjust="spacingAndGlyphs">first</tspan> <tspan x="156.23" textLength="78.49" lengthAdjust="spacingAndGlyphs">stage</tspan></text>
<text><tspan x="111.12" y="25.43" font-size="27.56" stroke-width="0.25" textLength="20.76" lengthAdjust="spacingAndGlyphs">0</tspan><tspan x="131.29" y="25.06" font-size="38.08" stroke-width="0.80" textLength="9.52" lengthAdjust="spacingAndGlyphs">.</tspan><tspan x="140.38" y="30.37" font-size="34.23" stroke-width="0.47" textLength="19.00" lengthAdjust="spacingAndGlyphs">3</tspan></text>
<text><tspan x="94.43" y="156.53" font-size="27.56" stroke-width="0.25" textLength="20.65" lengthAdjust="spacingAndGlyphs">0</tspan><tspan x="115.29" y="156.16" font-size="38.08" stroke-width="0.80" textLength="9.52" lengthAdjust="spacingAndGlyphs">.</tspan><tspan x="125.12" y="156.60" font-size="27.79" stroke-width="0.24" textLength="19.08" lengthAdjust="spacingAndGlyphs">2</tspan><tspan x="141.49" y="162.05" font-size="35.66" stroke-width="0.46" textLength="18.99" lengthAdjust="spacingAndGlyphs">5</tspan></text>
<text><tspan x="112.34" y="288.23" font-size="27.56" stroke-width="0.25" textLength="20.53" lengthAdjust="spacingAndGlyphs">0</tspan><tspan x="131.39" y="287.86" font-size="38.08" stroke-width="0.80" textLength="9.52" lengthAdjust="spacingAndGlyphs">.</tspan><tspan x="141.01" y="288.30" font-size="27.79" stroke-width="0.24" textLength="19.21" lengthAdjust="spacingAndGlyphs">2</tspan></text>
<text><tspan x="97.53" y="420.03" font-size="27.56" stroke-width="0.25" textLength="20.65" lengthAdjust="spacingAndGlyphs">0</tspan><tspan x="117.29" y="419.66" font-size="38.08" stroke-width="0.80" textLength="9.52" lengthAdjust="spacingAndGlyphs">.</tspan><tspan x="126.58" y="420.10" font-size="27.87" stroke-width="0.37" textLength="15.48" lengthAdjust="spacingAndGlyphs">1</tspan><tspan x="139.98" y="425.55" font-size="35.66" stroke-width="0.47" textLength="19.11" lengthAdjust="spacingAndGlyphs">5</tspan></text>
<text><tspan x="115.55" y="551.63" font-size="27.56" stroke-width="0.25" textLength="20.29" lengthAdjust="spacingAndGlyphs">0</tspan><tspan x="136.39" y="551.26" font-size="38.08" stroke-width="0.80" textLength="9.52" lengthAdjust="spacingAndGlyphs">.</tspan><tspan x="144.85" y="551.70" font-size="27.87" stroke-width="0.37" textLength="15.62" lengthAdjust="spacingAndGlyphs">1</tspan></text>
<text><tspan x="151.59" y="586.00" font-size="34.64" stroke-width="0.46" textLength="18.18" lengthAdjust="spacingAndGlyphs">4</tspan><tspan x="169.51" y="586.07" font-size="34.16" stroke-width="0.47" textLength="18.87" lengthAdjust="spacingAndGlyphs">5</tspan></text>
<text><tspan x="418.83" y="586.07" font-size="34.16" stroke-width="0.50" textLength="21.22" lengthAdjust="spacingAndGlyphs">5</tspan><tspan x="439.04" y="580.44" font-size="26.53" stroke-width="0.24" textLength="19.11" lengthAdjust="spacingAndGlyphs">0</tspan></text>
<text><tspan x="691.12" y="586.07" font-size="34.16" stroke-width="0.47" textLength="18.74" lengthAdjust="spacingAndGlyphs">5</tspan><tspan x="708.62" y="586.07" font-size="34.16" stroke-width="0.47" textLength="18.74" lengthAdjust="spacingAndGlyphs">5</tspan></text>
<text><tspan x="958.25" y="579.87" font-size="33.79" stroke-width="0.39" textLength="20.36" lengthAdjust="spacingAndGlyphs">6</tspan><tspan x="977.78" y="579.97" font-size="23.41" stroke-width="0.27" textLength="19.94" lengthAdjust="spacingAndGlyphs">0</tspan></text>
</g>
</svg>
</body></html>
